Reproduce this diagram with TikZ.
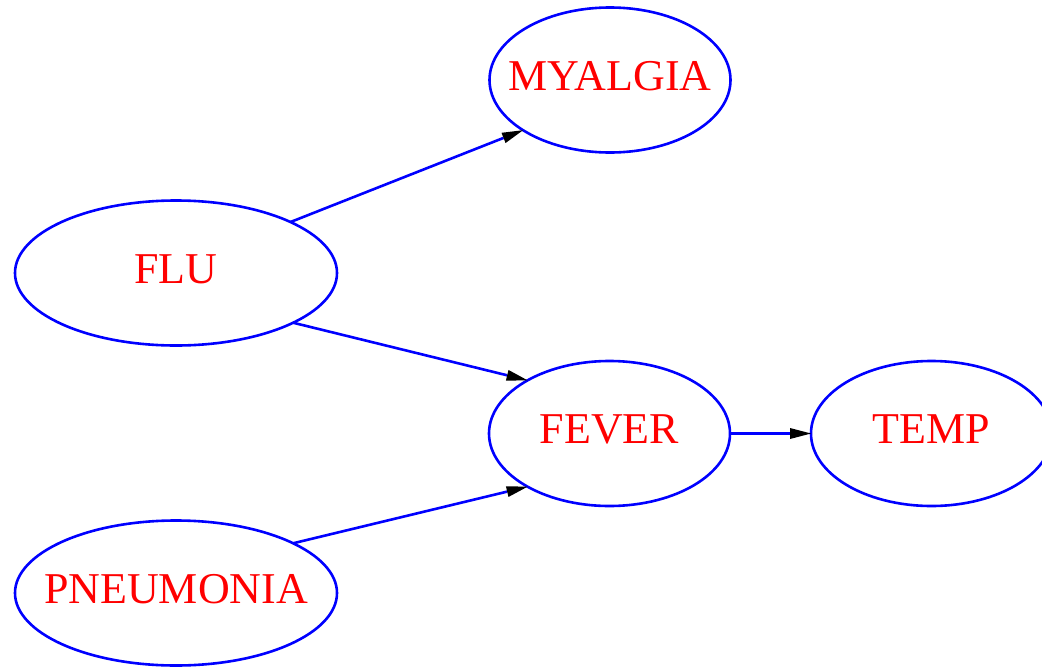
\documentclass[tikz,border=0pt]{standalone}
\usepackage{fontspec}
\setmainfont{Liberation Serif}
\usetikzlibrary{shapes.geometric,arrows.meta}
\tikzset{
  gnode/.style={ellipse, draw=blue, line width=2.6pt, text=red,
    font=\fontsize{44}{52}\selectfont, inner sep=0pt, outer sep=0pt,
    text height=24pt, text depth=4pt,
    minimum width=241pt, minimum height=145pt},
  widenode/.style={minimum width=322pt},
  gedge/.style={draw=blue, line width=2.6pt,
    -{Triangle[length=21pt,width=11pt,line width=0pt,color=black,fill=black]}}
}
\newcommand{\lbl}[1]{\makebox[0pt]{#1}}
\begin{document}
\begin{tikzpicture}[x=1pt,y=-1pt]
  \clip (0,0) rectangle (1042,667);
  \useasboundingbox (0,0) rectangle (1042,667);
  \node[gnode] (myalgia) at (610,80) {\lbl{MYALGIA}};
  \node[gnode,widenode] (flu) at (176,273) {\lbl{FLU}};
  \node[gnode] (fever) at (609.5,433.5) {\lbl{FEVER}};
  \node[gnode] (temp) at (931.5,433.5) {\lbl{TEMP}};
  \node[gnode,widenode] (pneumonia) at (176,593) {\lbl{PNEUMONIA}};
  \draw[gedge] (flu.24) -- (myalgia.210.5);
  \draw[gedge] (flu.-23.6) -- (fever.147);
  \draw[gedge] (pneumonia.23.7) -- (fever.213);
  \draw[gedge] (fever) -- (temp);
\end{tikzpicture}
\end{document}
